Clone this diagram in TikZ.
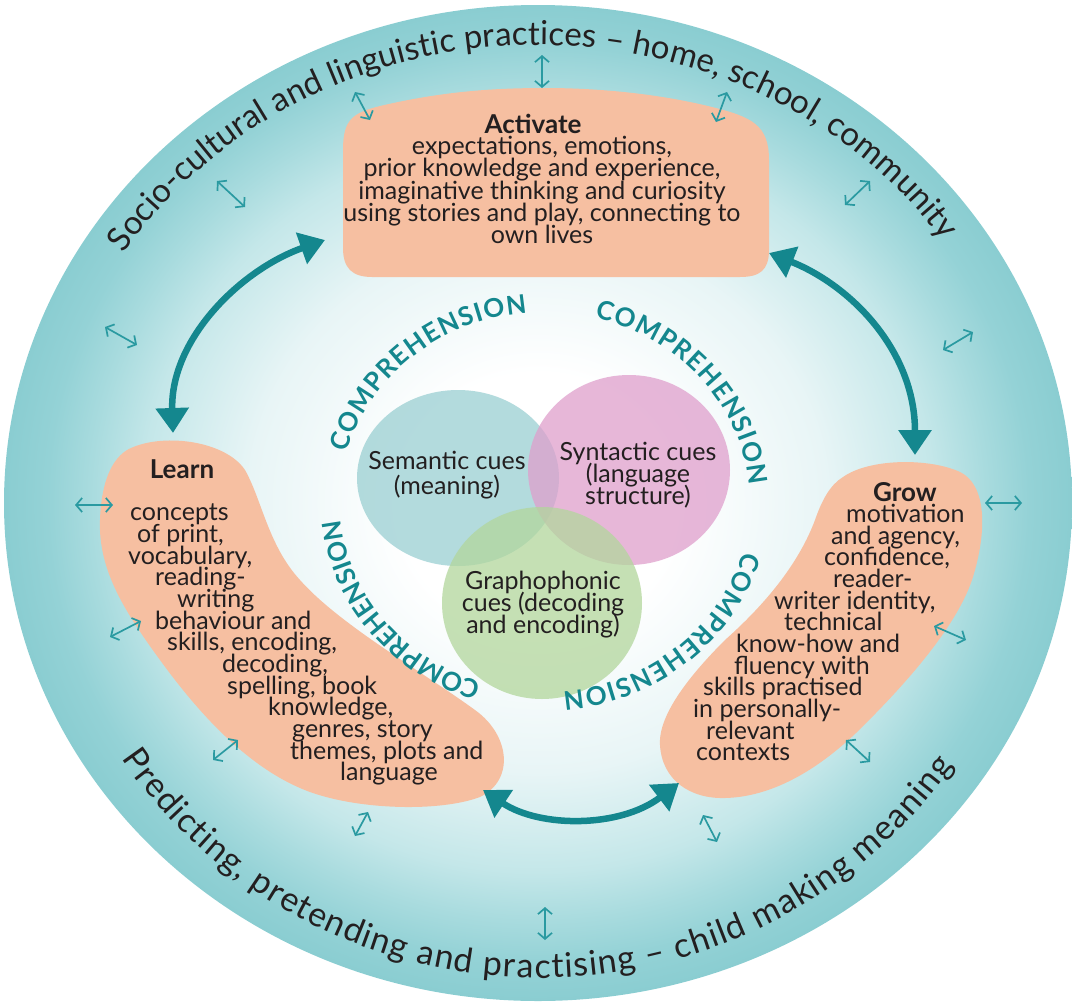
\documentclass[tikz,border=0pt]{standalone}
\usepackage{fontspec}
\setmainfont{Lato}
\usetikzlibrary{arrows.meta,decorations.text}
\definecolor{txt}{HTML}{231F20}
\definecolor{tealdk}{HTML}{14878E}
\definecolor{tealsm}{HTML}{2A9AA1}
\definecolor{blobc}{HTML}{F6BFA1}
\definecolor{semc}{HTML}{9ACFD2}
\definecolor{sync}{HTML}{DF9FCC}
\definecolor{grac}{HTML}{B2D69C}
\definecolor{ringa}{HTML}{E8F5F6}
\definecolor{ringb}{HTML}{C4E7E9}
\definecolor{ringc}{HTML}{A8DBDE}
\definecolor{ringd}{HTML}{94D2D6}
\definecolor{ringe}{HTML}{8ACDD1}
\pgfdeclareradialshading{bgshade}{\pgfpoint{0bp}{0bp}}{color(0bp)=(white); color(6.5bp)=(white); color(13.5bp)=(ringa); color(18.5bp)=(ringb); color(21bp)=(ringc); color(23bp)=(ringd); color(25bp)=(ringe); color(50bp)=(ringe)}
\tikzset{
  body/.style={font=\fontsize{25}{26}\selectfont, text=txt, inner sep=0pt},
  bodyb/.style={font=\fontsize{26}{27}\selectfont\bfseries, text=txt, inner sep=0pt},
  blob/.style={fill=blobc, draw=none},
  bigarrow/.style={color=tealdk, line width=6.5pt, <->, >={Triangle[length=25pt,width=32pt]}},
  smallarrow/.style={color=tealsm, line width=1.7pt, <->, >={Straight Barb[length=6pt,width=14pt]}},
  venn/.style={fill opacity=0.75, draw=none},
}
\begin{document}
\begin{tikzpicture}[x=1pt,y=-1pt]
\useasboundingbox (0,0) rectangle (1072,1002);
% background disc
\shade[shading=bgshade] (538,503) ellipse [x radius=534, y radius=498];

% outer ring texts
\path[decorate, decoration={text along path, text align=fit to path, text color=txt,
  text={|\fontsize{33}{33}\selectfont|Socio-cultural and linguistic practices – home, school, community}}]
  ([shift={(538,503)}]213:494 and 458) arc[start angle=213, end angle=325, x radius=494, y radius=458];
\path[decorate, decoration={text along path, text align=fit to path, text color=txt,
  text={|\fontsize{34}{34}\selectfont|Predicting, pretending and practising – child making meaning}}]
  ([shift={(540,480)}]146:505 and 498) arc[start angle=146, end angle=35, x radius=505, y radius=498];

% blobs
\path[blob] (343,248) -- (343,150) .. controls (343,120) and (352,113) .. (380,106)
  .. controls (440,92) and (490,88) .. (545,88) .. controls (600,88) and (660,94) .. (712,107)
  .. controls (752,117) and (769,125) .. (769,160) -- (769,250)
  .. controls (769,270) and (760,277) .. (740,277) -- (372,277)
  .. controls (352,277) and (343,268) .. (343,248) -- cycle;
\path[blob] (127,450) .. controls (160,432) and (225,440) .. (245,470)
  .. controls (262,500) and (268,545) .. (300,580)
  .. controls (340,625) and (420,670) .. (475,710)
  .. controls (510,735) and (515,780) .. (480,797)
  .. controls (440,812) and (360,810) .. (310,792)
  .. controls (250,770) and (200,715) .. (160,660)
  .. controls (125,612) and (98,570) .. (100,520)
  .. controls (101,490) and (108,462) .. (127,450) -- cycle;
\path[blob] (843,477) .. controls (870,458) and (930,458) .. (960,472)
  .. controls (990,487) and (985,540) .. (972,580)
  .. controls (955,630) and (900,690) .. (856,733)
  .. controls (815,772) and (770,797) .. (725,798)
  .. controls (690,799) and (662,780) .. (660,745)
  .. controls (658,715) and (690,675) .. (725,640)
  .. controls (770,600) and (800,560) .. (815,520)
  .. controls (822,500) and (830,485) .. (843,477) -- cycle;

% venn circles
\path[venn, fill=semc] (458,478) ellipse [x radius=101, y radius=88];
\path[venn, fill=sync] (629,470) ellipse [x radius=101, y radius=95];
\path[venn, fill=grac] (542,603) ellipse [x radius=100, y radius=96];

% COMPREHENSION arcs
\foreach \a/\b in {195/265, 284/355, 15/85, 108/174}{
  \path[decorate, decoration={text along path, text align=fit to path, text color=tealdk,
    text={|\fontsize{26}{26}\selectfont\bfseries|COMPREHENSION}}]
    ([shift={(545,502)}]\a:205 and 190) arc[start angle=\a, end angle=\b, x radius=205, y radius=190];
}

% Activate text
\node[bodyb, anchor=base] (acttitle) at (533,133) {Activate};
\foreach [count=\i] \y/\t in {154/{expectations, emotions,}, 176.5/{prior knowledge and experience,},
  199/{imaginative thinking and curiosity}, 221/{using stories and play, connecting to}, 243.5/{own lives}}
  \node[body, anchor=base] (act\i) at (542,\y) {\t};

% Learn text
\node[bodyb, anchor=base] (learntitle) at (182,478) {Learn};
\foreach [count=\i] \x/\y/\t in {130/520/{concepts}, 137/542/{of print,}, 128/564/{vocabulary,},
  155/585/{reading-}, 177/607/{writing}, 155/629/{behaviour and}, 167/650/{skills, encoding,},
  222/672/{decoding,}, 227/694/{spelling, book}, 268/715/{knowledge,}, 292/737/{genres, story},
  290/759/{themes, plots and}, 340/780/{language}}
  \node[body, anchor=base west] (learn\i) at (\x,\y) {\t};

% Grow text
\node[bodyb, anchor=base] (growtitle) at (905,501) {Grow};
\foreach [count=\i] \x/\y/\t in {846/522/{motivation}, 831/544/{and agency,}, 824/565/{confidence,},
  833/587/{reader-}, 774/609/{writer identity,}, 784/630/{technical}, 736/652/{know-how and},
  734/674/{fluency with}, 703/695/{skills practised}, 693/717/{in personally-}, 706/739/{relevant},
  696/760/{contexts}}
  \node[body, anchor=base west] (grow\i) at (\x,\y) {\t};

% Venn texts
\node[body, anchor=base] (sem1) at (447,469) {Semantic cues};
\node[body, anchor=base] (sem2) at (447,494) {(meaning)};
\node[body, anchor=base] (syn1) at (638,460) {Syntactic cues};
\node[body, anchor=base] (syn2) at (638,482) {(language};
\node[body, anchor=base] (syn3) at (638,504) {structure)};
\node[body, anchor=base] (gra1) at (543,589) {Graphophonic};
\node[body, anchor=base] (gra2) at (543,611) {cues (decoding};
\node[body, anchor=base] (gra3) at (543,633) {and encoding)};

% big arrows
\coordinate (al1) at (173,433); \coordinate (al2) at (325,240);
\coordinate (ar1) at (915,455); \coordinate (ar2) at (769,253);
\coordinate (ab1) at (483,790); \coordinate (ab2) at (679,783);
\draw[bigarrow] (al1) .. controls (170,340) and (240,270) .. (al2);
\draw[bigarrow] (ar1) .. controls (915,350) and (850,285) .. (ar2);
\draw[bigarrow] (ab1) .. controls (540,828) and (620,828) .. (ab2);

% small arrows
\foreach \i/\xa/\ya/\xb/\yb in {1/355/92/370/120, 2/542/55/542/88, 3/727/92/716/122,
  4/217/181/245/207, 5/870/181/845/205, 6/105/327/137/345, 7/973/332/943/350,
  8/75/505/113/505, 9/985/503/1022/503, 10/110/637/141/621, 11/934/626/966/640,
  12/213/760/238/740, 13/846/740/870/762, 14/355/836/368/812, 15/703/815/717/842,
  16/545/907/545/940}{
  \coordinate (sa\i) at (\xa,\ya);
  \coordinate (sb\i) at (\xb,\yb);
  \draw[smallarrow] (sa\i) -- (sb\i);
}
\end{tikzpicture}
\end{document}
